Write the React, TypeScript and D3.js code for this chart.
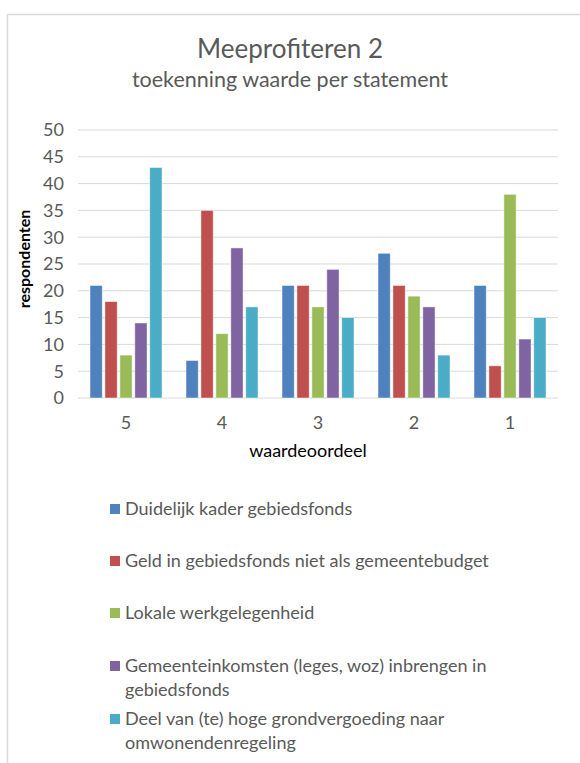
import React from "react";
import * as d3 from "d3";

const categories = ["5", "4", "3", "2", "1"];
const seriesNames = [
  "Duidelijk kader gebiedsfonds",
  "Geld in gebiedsfonds niet als gemeentebudget",
  "Lokale werkgelegenheid",
  "Gemeenteinkomsten (leges, woz) inbrengen in gebiedsfonds",
  "Deel van (te) hoge grondvergoeding naar omwonendenregeling",
];
const legendLines = [
  ["Duidelijk kader gebiedsfonds"],
  ["Geld in gebiedsfonds niet als gemeentebudget"],
  ["Lokale werkgelegenheid"],
  ["Gemeenteinkomsten (leges, woz) inbrengen in", "gebiedsfonds"],
  ["Deel van (te) hoge grondvergoeding naar", "omwonendenregeling"],
];
const duidelijk = [21, 7, 21, 27, 21];
const geld = [18, 35, 21, 21, 6];
const lokale = [8, 12, 17, 19, 38];
const gemeente = [14, 28, 24, 17, 11];
const deel = [43, 17, 15, 8, 15];
const seriesValues = [duidelijk, geld, lokale, gemeente, deel];
const colors = ["#4F81BD", "#C0504D", "#9BBB59", "#8064A2", "#4BACC6"];
const yTicks = [0, 5, 10, 15, 20, 25, 30, 35, 40, 45, 50];

const W = 580;
const H = 763;
const FONT = "Lato, 'Open Sans', sans-serif";
const TXT = "#595959";

export default function App() {
  const plotL = 78, plotR = 558, plotT = 130, plotB = 398;
  const x = d3.scaleBand().domain(categories).range([plotL, plotR]).paddingInner(0.25).paddingOuter(0.125);
  const xi = d3.scaleBand().domain(seriesNames).range([0, x.bandwidth()]).paddingInner(0.18);
  const y = d3.scaleLinear().domain([0, 50]).range([plotB, plotT]);
  const legendY = [509, 561, 613, 666, 719];

  return (
    <svg width={W} height={H} style={{ position: "absolute", left: 0, top: 0, background: "#fff" }} fontFamily={FONT}>
      <rect x={0} y={0} width={W} height={H} fill="#fff" />
      <line x1={7.5} y1={14} x2={7.5} y2={H} stroke="#d9d9d9" strokeWidth={1.5} />
      <line x1={7} y1={14.5} x2={W} y2={14.5} stroke="#d9d9d9" strokeWidth={1.5} />
      <text x={W / 2} y={58} textAnchor="middle" fontSize={26} fill={TXT}>Meeprofiteren 2</text>
      <text x={W / 2} y={87} textAnchor="middle" fontSize={21.5} fill={TXT}>toekenning waarde per statement</text>
      {yTicks.map((t) => (
        <g key={t}>
          <line x1={plotL} x2={plotR} y1={y(t)} y2={y(t)} stroke="#d9d9d9" strokeWidth={1} />
          <text x={64} y={y(t)} dy="0.35em" textAnchor="end" fontSize={18} fill={TXT}>{t}</text>
        </g>
      ))}
      {categories.map((c, ci) => (
        <g key={c} transform={`translate(${x(c)},0)`}>
          {seriesNames.map((s, si) => (
            <rect
              key={s}
              x={xi(s)}
              y={y(seriesValues[si][ci])}
              width={xi.bandwidth()}
              height={plotB - y(seriesValues[si][ci])}
              fill={colors[si]}
              stroke="#ffffff"
              strokeOpacity={0.6}
              strokeWidth={0.8}
            />
          ))}
          <text x={x.bandwidth() / 2} y={429} textAnchor="middle" fontSize={18} fill={TXT}>{c}</text>
        </g>
      ))}
      <text x={308} y={457} textAnchor="middle" fontSize={18} fill="#000">waardeoordeel</text>
      <text transform={`translate(30,259) rotate(-90)`} textAnchor="middle" fontSize={16} fontWeight="bold" fill="#000">respondenten</text>
      {legendLines.map((lines, i) => (
        <g key={i}>
          <rect x={110} y={legendY[i] - 5} width={10} height={10} fill={colors[i]} />
          {lines.map((ln, li) => (
            <text key={li} x={125} y={legendY[i] + li * 24} dy="0.35em" fontSize={18} fill={TXT}>{ln}</text>
          ))}
        </g>
      ))}
    </svg>
  );
}
